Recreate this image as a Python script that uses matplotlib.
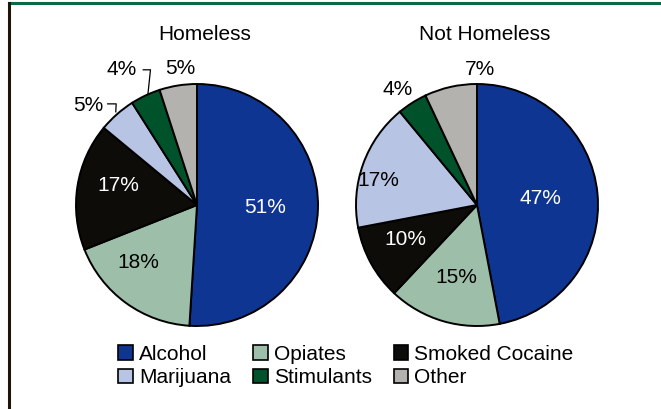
import matplotlib
matplotlib.use("Agg")
import matplotlib.pyplot as plt
import numpy as np
from matplotlib.patches import Patch
from matplotlib.lines import Line2D

plt.rcParams['font.family'] = ['Liberation Sans', 'DejaVu Sans']

categories = ["Alcohol", "Opiates", "Smoked Cocaine", "Marijuana", "Stimulants", "Other"]
homeless = [51, 18, 17, 5, 4, 5]
not_homeless = [47, 15, 10, 17, 4, 7]
titles = ["Homeless", "Not Homeless"]
colors = ["#0f3592", "#9dbfa9", "#0e0c08", "#b8c4e4", "#00522a", "#b3b2ae"]
text_colors = ["white", "black", "white", "black", "black", "black"]

# per-label placement: (radius factor, angle offset in degrees)
place_h = [(0.56, 0), (0.68, -10), (0.67, -5), (1.22, 6), (1.28, 4), (1.14, -2)]
place_n = [(0.53, 0), (0.62, 0), (0.66, -3), (0.84, 6), (1.16, 2), (1.12, -14)]
leaders_h = [None, None, None, "left", "up", None]
leaders_n = [None] * 6

W, H = 661, 409
fig = plt.figure(figsize=(W / 100, H / 100), dpi=100)

# frame lines
fig.add_artist(Line2D([8.5 / W, 1], [1 - 3 / H, 1 - 3 / H], transform=fig.transFigure,
                      color="#0a6a45", lw=2.2))
fig.add_artist(Line2D([8.5 / W, 8.5 / W], [0, 1 - 3 / H], transform=fig.transFigure,
                      color="#1e1408", lw=2.2))

R = 121
box = 320
lim = box / (2 * R)
centers = [(197, 204), (477, 204)]


def draw(center, vals, title, place, leaders):
    cx, cy = center
    ax = fig.add_axes([(cx - box / 2) / W, (cy - box / 2) / H, box / W, box / H])
    wedges, _ = ax.pie(vals, colors=colors, startangle=90, counterclock=False,
                       wedgeprops=dict(edgecolor="black", linewidth=1.4))
    ax.set_xlim(-lim, lim)
    ax.set_ylim(-lim, lim)
    ax.set_aspect("equal")
    ax.axis("off")
    for w, v, (rf, off), tc, ld in zip(wedges, vals, place, text_colors, leaders):
        mid = (w.theta1 + w.theta2) / 2
        a = np.deg2rad(mid + off)
        x, y = rf * np.cos(a), rf * np.sin(a)
        ax.text(x, y, f"{v}%", ha="center", va="center", fontsize=15, color=tc)
        am = np.deg2rad(mid)
        ex, ey = np.cos(am), np.sin(am)
        if ld == "left":
            sx = x + 0.16
            ax.plot([sx, sx + 0.07, ex - 0.01], [y + 0.01, y + 0.01, ey + 0.02],
                    color="black", lw=0.9, clip_on=False)
        elif ld == "up":
            sx = x + 0.18
            ax.plot([sx, sx + 0.06, ex + 0.02], [y, y, ey + 0.01],
                    color="black", lw=0.9, clip_on=False)
    ax.text(0.06, 1.41, title, ha="center", va="center", fontsize=15)
    return wedges


draw(centers[0], homeless, titles[0], place_h, leaders_h)
draw(centers[1], not_homeless, titles[1], place_n, leaders_n)

handles = [Patch(facecolor=c, edgecolor="black", linewidth=1.2) for c in colors]
order = [0, 3, 1, 4, 2, 5]
fig.legend([handles[i] for i in order], [categories[i] for i in order],
           ncol=3, loc="center", bbox_to_anchor=(346 / W, 1 - 366 / H),
           frameon=False, fontsize=15, handlelength=0.7, handleheight=0.7,
           handletextpad=0.3, columnspacing=1.05, labelspacing=0.22,
           borderaxespad=0)

fig.savefig("out.png", dpi=100, facecolor="white")
